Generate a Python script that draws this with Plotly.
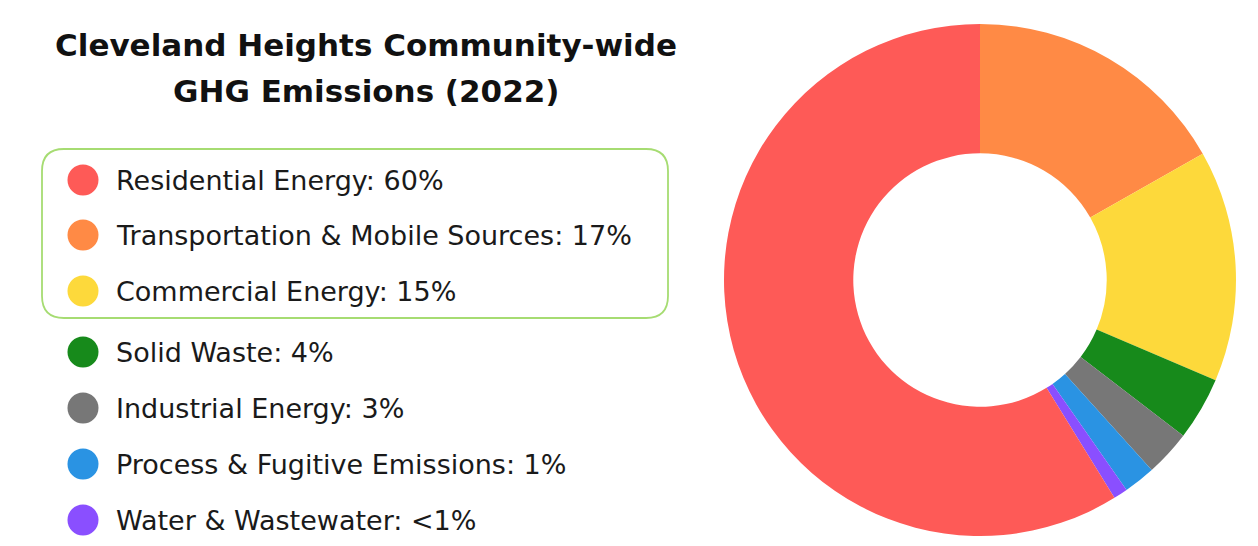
import plotly.graph_objects as go

# ---- data ----
categories = [
    "Residential Energy",
    "Transportation & Mobile Sources",
    "Commercial Energy",
    "Solid Waste",
    "Industrial Energy",
    "Process & Fugitive Emissions",
    "Water & Wastewater",
]
shares = [58.8, 16.8, 14.6, 4.0, 2.9, 2.0, 0.9]
share_labels = ["60%", "17%", "15%", "4%", "3%", "1%", "<1%"]
colors = ["#FE5A57", "#FF8A45", "#FDD93B", "#178A1B", "#777777", "#2A93E3", "#8A4FFF"]
title_lines = ["Cleveland Heights Community-wide", "GHG Emissions (2022)"]

W, H = 1258, 546
OFF = 8  # page body margin; overlay axis uses page pixel coordinates
FONT = "DejaVu Sans"

fig = go.Figure()

# donut: clockwise from 12 o'clock, residential last
cx, cy, R = 980, 280, 256
order = list(range(1, len(categories))) + [0]
fig.add_trace(go.Pie(
    labels=[categories[i] for i in order],
    values=[shares[i] for i in order],
    marker=dict(colors=[colors[i] for i in order], line=dict(width=0)),
    hole=0.495,
    sort=False,
    direction="clockwise",
    rotation=0,
    textinfo="none",
    hovertemplate="%{label}<extra></extra>",
    domain=dict(x=[(cx - R - OFF) / W, (cx + R - OFF) / W],
                y=[1 - (cy + R - OFF) / H, 1 - (cy - R - OFF) / H]),
    showlegend=False,
))

# legend markers on a pixel-like overlay axis
row_y = [180, 235, 291, 352, 408, 464, 520]
fig.add_trace(go.Scatter(
    x=[83] * len(categories),
    y=row_y,
    mode="markers",
    marker=dict(size=31, color=colors, line=dict(width=0)),
    hoverinfo="skip",
    showlegend=False,
    xaxis="x", yaxis="y",
))

for cat, lab, yy in zip(categories, share_labels, row_y):
    fig.add_annotation(
        x=114, y=yy, xref="x", yref="y",
        text=f"{cat}: {lab}",
        showarrow=False, xanchor="left", yanchor="middle",
        font=dict(family=FONT, size=27, color="#1a1a1a"),
    )

for i, line in enumerate(title_lines):
    fig.add_annotation(
        x=366, y=[45, 91][i], xref="x", yref="y",
        text=line, showarrow=False, xanchor="center", yanchor="middle",
        font=dict(family=FONT, size=31, color="#111111", weight=700),
    )

# rounded highlight box around the top three legend entries
x0, x1, y0, y1, r = 42, 668, 149, 318, 22
path = (f"M {x0+r},{y0} L {x1-r},{y0} Q {x1},{y0} {x1},{y0+r} "
        f"L {x1},{y1-r} Q {x1},{y1} {x1-r},{y1} L {x0+r},{y1} "
        f"Q {x0},{y1} {x0},{y1-r} L {x0},{y0+r} Q {x0},{y0} {x0+r},{y0} Z")
fig.add_shape(type="path", path=path, xref="x", yref="y",
              line=dict(color="#A6DC72", width=1.8), fillcolor="rgba(0,0,0,0)")

fig.update_layout(
    width=W, height=H,
    margin=dict(l=0, r=0, t=0, b=0),
    paper_bgcolor="#FFFFFF",
    plot_bgcolor="rgba(0,0,0,0)",
    xaxis=dict(range=[OFF, W + OFF], visible=False, fixedrange=True, domain=[0, 1]),
    yaxis=dict(range=[H + OFF, OFF], visible=False, fixedrange=True, domain=[0, 1]),
)

fig.write_html("out.html")
